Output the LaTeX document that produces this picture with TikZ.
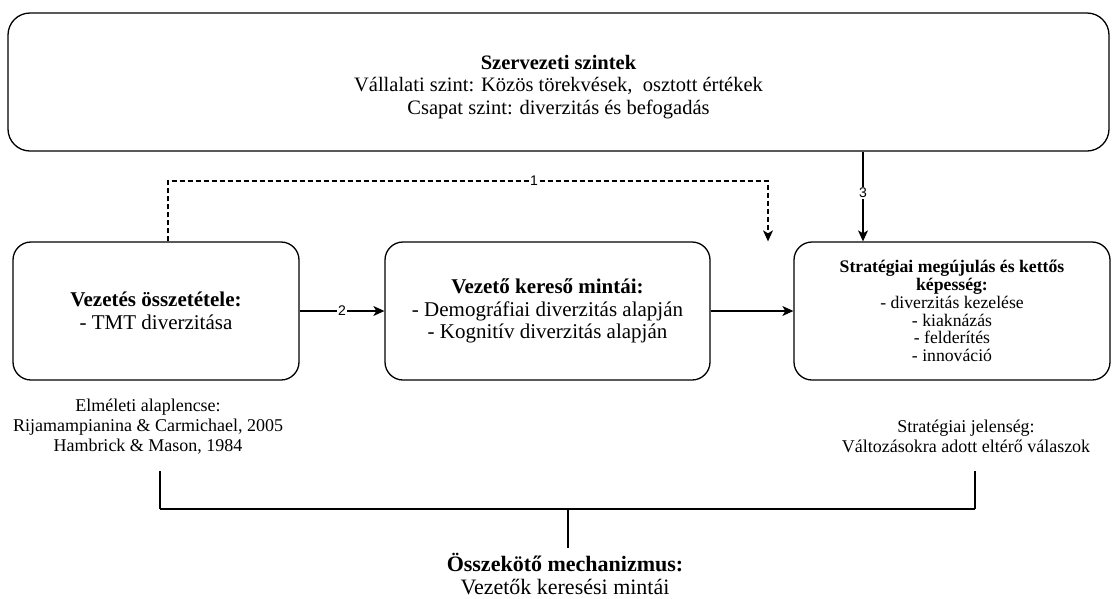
\documentclass[tikz,border=0pt]{standalone}
\usepackage{fontspec}
\setmainfont{Liberation Serif}
\newfontfamily\labelfont{Liberation Sans}
\usetikzlibrary{arrows.meta,calc}
\begin{document}
\begin{tikzpicture}[x=1pt,y=-1pt,
  box/.style={draw=black,line width=1.3pt,rounded corners=18pt,align=center,inner sep=0pt,minimum height=138pt},
  conn/.style={line width=1.2pt,-{Stealth[length=11pt,width=10pt,inset=3pt]}},
  lbl/.style={fill=white,inner sep=1pt,font=\labelfont\fontsize{14}{15}\selectfont},
  big/.style={font=\fontsize{21}{22.5}\selectfont},
  topfont/.style={font=\fontsize{20.5}{22.5}\selectfont},
  small/.style={font=\fontsize{17.7}{17.7}\selectfont},
  note/.style={align=center,font=\fontsize{18}{20}\selectfont},
  bracket/.style={line width=2.4pt}]
\useasboundingbox (0,0) rectangle (1117,598);
% top: organisational levels
\node[box,minimum width=1101pt,rounded corners=22pt] (top) at (558.5,82) {};
\node[topfont,align=center] (toptext) at ($(top.center)+(0,5)$)
  {\textbf{Szervezeti szintek}\\Vállalati szint: Közös törekvések,\ \ osztott értékek\\Csapat szint: diverzitás és befogadás};
% three process boxes
\node[box,big,minimum width=286pt] (lead) at (156,311)
  {\textbf{Vezetés összetétele:}\\- TMT diverzitása};
\node[box,big,minimum width=325pt] (search) at (547.5,311)
  {\textbf{Vezető kereső mintái:}\\- Demográfiai diverzitás alapján\\- Kognitív diverzitás alapján};
\node[box,small,minimum width=316pt] (strat) at (952,311)
  {\textbf{Stratégiai megújulás és kettős}\\\textbf{képesség:}\\- diverzitás kezelése\\- kiaknázás\\- felderítés\\- innováció};
% connectors
\coordinate (d1) at (168,181);
\coordinate (d2) at (768,181);
\draw[conn,dash pattern=on 5pt off 3pt] (d1 |- lead.north) -- (d1) -- node[lbl,pos=0.61]{1} (d2) -- (d2 |- strat.north);
\coordinate (c3) at (863,0);
\draw[conn] (c3 |- top.south) -- node[lbl,pos=0.46]{3} (c3 |- strat.north);
\draw[conn] (lead.east) -- node[lbl]{2} (search.west);
\draw[conn] (search.east) -- (strat.west);
% notes under the boxes
\node[note] (theory) at (148,427) {Elméleti alaplencse:\\Rijamampianina \& Carmichael, 2005\\Hambrick \& Mason, 1984};
\node[note] (phen) at (966,436) {Stratégiai jelenség:\\Változásokra adott eltérő válaszok};
\node[align=center,font=\fontsize{22}{22.5}\selectfont] (mech) at (565,574) {\textbf{Összekötő mechanizmus:}\\Vezetők keresési mintái};
% bracket joining the notes to the mechanism
\coordinate (b1) at (160,471);
\coordinate (b2) at (975,471);
\coordinate (hb) at (568,509);
\coordinate (mtop) at (568,548);
\draw[line width=2pt] (b1) -- (b1 |- hb);
\draw[line width=2pt] (b2) -- (b2 |- hb);
\draw[bracket] (b1 |- hb) -- (b2 |- hb);
\draw[line width=2pt] (hb) -- (mtop);
\end{tikzpicture}
\end{document}
